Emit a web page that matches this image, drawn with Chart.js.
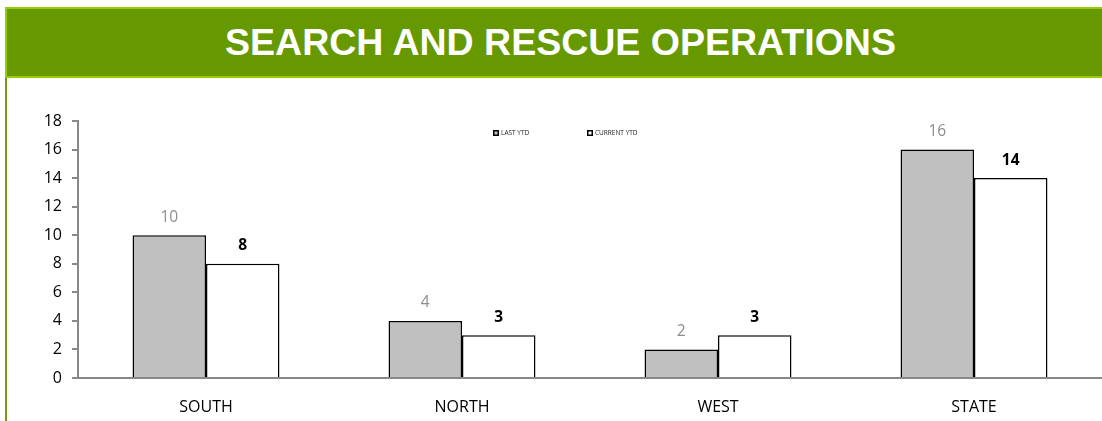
<!DOCTYPE html>
<html>
<head>
<meta charset="utf-8">
<script src="https://cdn.jsdelivr.net/npm/chart.js@4"></script>
<style>
  html, body { margin: 0; padding: 0; background: #ffffff; width: 1102px; height: 421px; overflow: hidden; }
  #header {
    position: absolute; left: 5px; top: 7px; width: 1097px; height: 67px;
    background: #669900;
    border-top: 2px solid #99cc00; border-bottom: 2px solid #99cc00; border-left: 2px solid #99cc00;
    box-sizing: content-box;
  }
  #header h1 {
    margin: 0; padding: 0; position: absolute; left: 0; right: 0; top: 0; height: 67px;
    font-family: "Liberation Sans", Arial, sans-serif; font-weight: bold; font-size: 37.5px;
    color: #ffffff; line-height: 67px; text-align: center; padding-left: 10px;
  }
  #sideline { position: absolute; left: 5px; top: 78px; width: 2px; height: 343px; background: #6a9e10; }
  #wrap { position: absolute; left: 0; top: 79px; width: 1102px; height: 342px; }
</style>
</head>
<body>
<div id="header"><h1>SEARCH AND RESCUE OPERATIONS</h1></div>
<div id="sideline"></div>
<div id="wrap"><canvas id="chart"></canvas></div>
<script>
// Regions and year-to-date operation counts
const regions = ["SOUTH", "NORTH", "WEST", "STATE"];
const lastYtd = [10, 4, 2, 16];
const currentYtd = [8, 3, 3, 14];
const seriesNames = ["LAST YTD", "CURRENT YTD"];
const yTicks = [0, 2, 4, 6, 8, 10, 12, 14, 16, 18];

const baseFont = '"Open Sans", "DejaVu Sans", sans-serif';

// Value labels above each bar
const valueLabels = {
  id: 'valueLabels',
  afterDatasetsDraw(chart) {
    const ctx = chart.ctx;
    ctx.save();
    ctx.textAlign = 'center';
    ctx.textBaseline = 'middle';
    chart.data.datasets.forEach((ds, i) => {
      const meta = chart.getDatasetMeta(i);
      meta.data.forEach((bar, j) => {
        ctx.font = (i === 0 ? '' : 'bold ') + '15.5px ' + baseFont;
        ctx.fillStyle = i === 0 ? '#8c8c8c' : '#000000';
        ctx.fillText(String(ds.data[j]), bar.x, bar.y - 18);
      });
    });
    ctx.restore();
  }
};

// Small legend near the top of the plot
const miniLegend = {
  id: 'miniLegend',
  afterDraw(chart) {
    const ctx = chart.ctx;
    const starts = [493, 587];
    const y = chart.chartArea.top + 12;
    ctx.save();
    ctx.font = '6.5px ' + baseFont;
    ctx.textBaseline = 'middle';
    ctx.textAlign = 'left';
    chart.data.datasets.forEach((ds, i) => {
      const x = starts[i];
      ctx.fillStyle = ds.backgroundColor;
      ctx.fillRect(x, y - 3, 6, 6);
      ctx.strokeStyle = '#000000';
      ctx.lineWidth = 1.5;
      ctx.strokeRect(x + 0.75, y - 2.25, 4.5, 4.5);
      ctx.fillStyle = '#222222';
      ctx.fillText(ds.label, x + 8, y + 0.5);
    });
    ctx.restore();
  }
};

new Chart(document.getElementById('chart'), {
  type: 'bar',
  data: {
    labels: regions,
    datasets: [
      { label: seriesNames[0], data: lastYtd, backgroundColor: '#c0c0c0', borderColor: '#000000', borderWidth: 1.5, borderSkipped: 'bottom' },
      { label: seriesNames[1], data: currentYtd, backgroundColor: '#ffffff', borderColor: '#000000', borderWidth: 1.5, borderSkipped: 'bottom' }
    ]
  },
  options: {
    responsive: true,
    maintainAspectRatio: false,
    animation: false,
    layout: { padding: { top: 42, left: 0, right: 0, bottom: 0 } },
    datasets: { bar: { categoryPercentage: 0.574, barPercentage: 1.0 } },
    plugins: {
      legend: { display: false },
      tooltip: { enabled: false }
    },
    scales: {
      x: {
        grid: { display: false, drawTicks: false },
        border: { display: true, color: '#888888', width: 2 },
        ticks: { color: '#000000', font: { family: baseFont, size: 16 }, padding: 20 },
        afterFit(scale) { scale.height = 43; }
      },
      y: {
        min: 0, max: 18,
        afterBuildTicks(scale) { scale.ticks = yTicks.map(v => ({ value: v })); },
        grid: { display: true, drawOnChartArea: false, drawTicks: true, tickLength: 6, color: '#888888', lineWidth: 2 },
        border: { display: true, color: '#888888', width: 2 },
        ticks: { color: '#000000', font: { family: baseFont, size: 16 }, padding: 10 },
        afterFit(scale) { scale.width = 78; }
      }
    }
  },
  plugins: [valueLabels, miniLegend]
});
</script>
</body>
</html>
